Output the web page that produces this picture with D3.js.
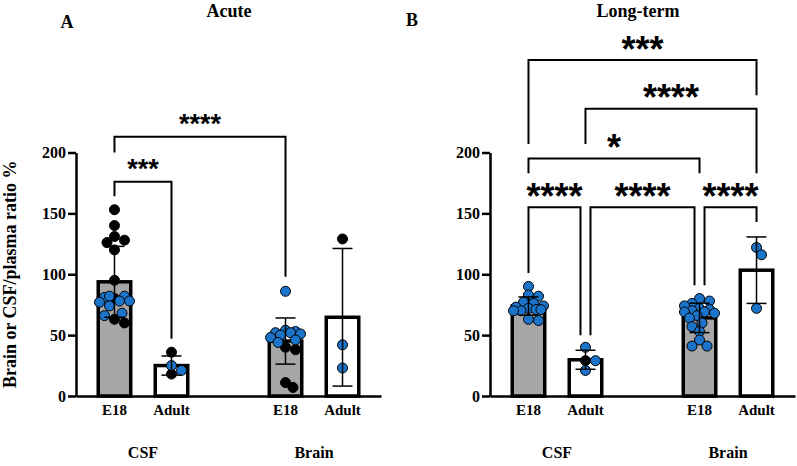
<!DOCTYPE html>
<html>
<head>
<meta charset="utf-8">
<script src="https://cdn.jsdelivr.net/npm/d3@7"></script>
<style>
  body { margin: 0; background: #fff; }
  svg { display: block; }
</style>
</head>
<body>
<div id="chart"></div>
<script>
// bars in each panel: CSF E18, CSF Adult, Brain E18, Brain Adult
const categories = ['E18', 'Adult', 'E18', 'Adult'];
const tissues = ['CSF', 'Brain'];
const yTicks = [0, 50, 100, 150, 200];

const acuteBlack = [[153, 140, 131, 128, 126, 120, 95, 80, 63, 60], [36, 18], [40, 38, 11, 7], [129]];
const acuteBlue = [[82, 81, 82, 78, 77, 78, 74, 68, 66], [25, 21], [86, 54, 53, 52, 52, 51, 50, 48, 46, 44], [42, 23]];

const longBlack = [[], [29], [], []];
const longBlue = [
  [90, 83, 82, 77, 76, 74, 73, 72, 71, 70, 71, 70, 63, 62],
  [40, 29, 21],
  [80, 78, 76, 74, 72, 71, 70, 69, 69, 68, 66, 64, 60, 57, 53, 46, 41, 41],
  [122, 116, 72]
];

// significance brackets: bar indices, bracket level and leg ends (in % units)
const acuteSig = [
  { from: 0, to: 2, level: 213, legs: [200, 98], label: '****' },
  { from: 0, to: 1, level: 176, legs: [164, 47], label: '***' }
];
const longSig = [
  { from: 0, to: 3, level: 276, legs: [207, 247], label: '***' },
  { from: 1, to: 3, level: 236, legs: [207, 183], label: '****' },
  { from: 0, to: 2, level: 195, legs: [183, 183], label: '*' },
  { from: 0, to: 1, level: 155, legs: [101, 50], label: '****' },
  { from: 1, to: 2, level: 155, legs: [50, 91], label: '****' },
  { from: 2, to: 3, level: 155, legs: [91, 143], label: '****' }
];

const W = 797, H = 466;
const SERIF = "'Liberation Serif', 'Times New Roman', serif";
const SANS = "'Liberation Sans', Arial, sans-serif";
const BLUE = '#1b74c9';
const GREY = '#a6a6a6';

const svg = d3.select('#chart').append('svg')
  .attr('width', W)
  .attr('height', H);

const y = d3.scaleLinear().domain([0, 200]).range([396, 152.5]);

const panels = [
  { left: 76, right: 381, letter: 'A', letterX: 67, letterY: 28, title: 'Acute', titleX: 229,
    black: acuteBlack, blue: acuteBlue, sig: acuteSig, starSize: 27, yLabel: true },
  { left: 490, right: 795, letter: 'B', letterX: 412, letterY: 26, title: 'Long-term', titleX: 638,
    black: longBlack, blue: longBlue, sig: longSig, starSize: 36, yLabel: false }
];

// slot of each bar along x (gap between CSF and Brain groups)
const slot = i => i + (i >= 2 ? 1 : 0);

function swarm(points, cx, r) {
  const placed = [];
  const offsets = [0];
  for (let k = 2.5; k <= 15; k += 2.5) offsets.push(k, -k);
  const minDist = r * 1.7;
  points.forEach(p => {
    const py = y(p.v);
    let best = null, bestD = -1;
    for (const dx of offsets) {
      const px = cx + dx;
      let d = Infinity;
      for (const q of placed) d = Math.min(d, Math.hypot(q.x - px, q.y - py));
      if (d >= minDist) { best = px; bestD = d; break; }
      if (d > bestD) { bestD = d; best = px; }
    }
    placed.push({ x: best, y: py, c: p.c });
  });
  return placed;
}

function drawPanel(cfg) {
  const g = svg.append('g');
  const x = d3.scaleLinear().domain([-0.675, 4.675]).range([cfg.left, cfg.right]);
  const bw = 36, sw = 3.5;

  const stats = categories.map((c, i) => {
    const vals = cfg.black[i].concat(cfg.blue[i]);
    return { i, mean: d3.mean(vals), sd: d3.deviation(vals) || 0 };
  });

  // Bars
  g.append('g').selectAll('rect')
    .data(stats)
    .join('rect')
    .attr('x', d => x(slot(d.i)) - bw / 2 + sw / 2)
    .attr('width', bw - sw)
    .attr('y', d => y(d.mean))
    .attr('height', d => y(0) - y(d.mean))
    .attr('fill', d => d.i % 2 === 0 ? GREY : '#fff')
    .attr('stroke', '#000')
    .attr('stroke-width', sw);

  // Axes
  const yAxis = g.append('g')
    .attr('transform', `translate(${cfg.left},0)`)
    .call(d3.axisLeft(y).tickValues(yTicks).tickSize(8).tickSizeOuter(0).tickPadding(2));
  yAxis.select('.domain').attr('stroke-width', 2.5);
  yAxis.selectAll('.tick line').attr('stroke-width', 2.5);
  yAxis.selectAll('.tick text')
    .attr('font-family', SERIF).attr('font-weight', 'bold').attr('font-size', 16).attr('fill', '#000');

  const xAxis = g.append('g')
    .attr('transform', `translate(0,${y(0)})`)
    .call(d3.axisBottom(x).tickValues([]).tickSizeOuter(0));
  xAxis.select('.domain').attr('stroke-width', 2.5);

  // Points
  categories.forEach((c, i) => {
    const pts = cfg.black[i].map(v => ({ v, c: '#000' }))
      .concat(cfg.blue[i].map(v => ({ v, c: BLUE })));
    const placed = swarm(pts, x(slot(i)), 5);
    g.append('g').selectAll('circle')
      .data(placed)
      .join('circle')
      .attr('cx', d => d.x)
      .attr('cy', d => d.y)
      .attr('r', 5)
      .attr('fill', d => d.c)
      .attr('stroke', '#000')
      .attr('stroke-width', 1);
  });

  // Error bars (mean ± SD)
  const eb = g.append('g').attr('stroke', '#000').attr('stroke-width', 1.5);
  stats.forEach(d => {
    const cx = x(slot(d.i));
    const lo = y(Math.max(0, d.mean - d.sd)), hi = y(d.mean + d.sd);
    eb.append('line').attr('x1', cx).attr('x2', cx).attr('y1', lo).attr('y2', hi);
    eb.append('line').attr('x1', cx - 10).attr('x2', cx + 10).attr('y1', hi).attr('y2', hi);
    if (d.mean - d.sd > 0) {
      eb.append('line').attr('x1', cx - 10).attr('x2', cx + 10).attr('y1', lo).attr('y2', lo);
    }
  });

  // Significance brackets
  cfg.sig.forEach(b => {
    let xl = x(slot(b.from)), xr = x(slot(b.to));
    cfg.sig.forEach(o => {
      if (o === b || o.level !== b.level) return;
      if (o.from === b.to) xr -= 5;
      if (o.to === b.from) xl += 5;
    });
    g.append('path')
      .attr('d', `M${xl},${y(b.legs[0])}V${y(b.level)}H${xr}V${y(b.legs[1])}`)
      .attr('fill', 'none')
      .attr('stroke', '#000')
      .attr('stroke-width', 2);
    g.append('text')
      .attr('x', (xl + xr) / 2)
      .attr('y', y(b.level) - 19 + cfg.starSize * 0.575)
      .attr('text-anchor', 'middle')
      .attr('font-family', SANS)
      .attr('font-weight', 'bold')
      .attr('font-size', cfg.starSize)
      .text(b.label);
  });

  // Category labels
  g.append('g').selectAll('text')
    .data(categories)
    .join('text')
    .attr('x', (d, i) => x(slot(i)))
    .attr('y', 415)
    .attr('text-anchor', 'middle')
    .attr('font-family', SERIF).attr('font-weight', 'bold').attr('font-size', 15)
    .text(d => d);

  g.append('g').selectAll('text')
    .data(tissues)
    .join('text')
    .attr('x', (d, k) => (x(slot(2 * k)) + x(slot(2 * k + 1))) / 2)
    .attr('y', 458)
    .attr('text-anchor', 'middle')
    .attr('font-family', SERIF).attr('font-weight', 'bold').attr('font-size', 16)
    .text(d => d);

  // Titles
  g.append('text')
    .attr('x', cfg.titleX).attr('y', 17)
    .attr('text-anchor', 'middle')
    .attr('font-family', SERIF).attr('font-weight', 'bold').attr('font-size', 18)
    .text(cfg.title);
  g.append('text')
    .attr('x', cfg.letterX).attr('y', cfg.letterY)
    .attr('text-anchor', 'middle')
    .attr('font-family', SERIF).attr('font-weight', 'bold').attr('font-size', 18)
    .text(cfg.letter);

  if (cfg.yLabel) {
    g.append('text')
      .attr('transform', `translate(16,${(y(0) + y(200)) / 2}) rotate(-90)`)
      .attr('text-anchor', 'middle')
      .attr('font-family', SERIF).attr('font-weight', 'bold').attr('font-size', 18)
      .text('Brain or CSF/plasma ratio %');
  }
}

panels.forEach(drawPanel);
</script>
</body>
</html>
